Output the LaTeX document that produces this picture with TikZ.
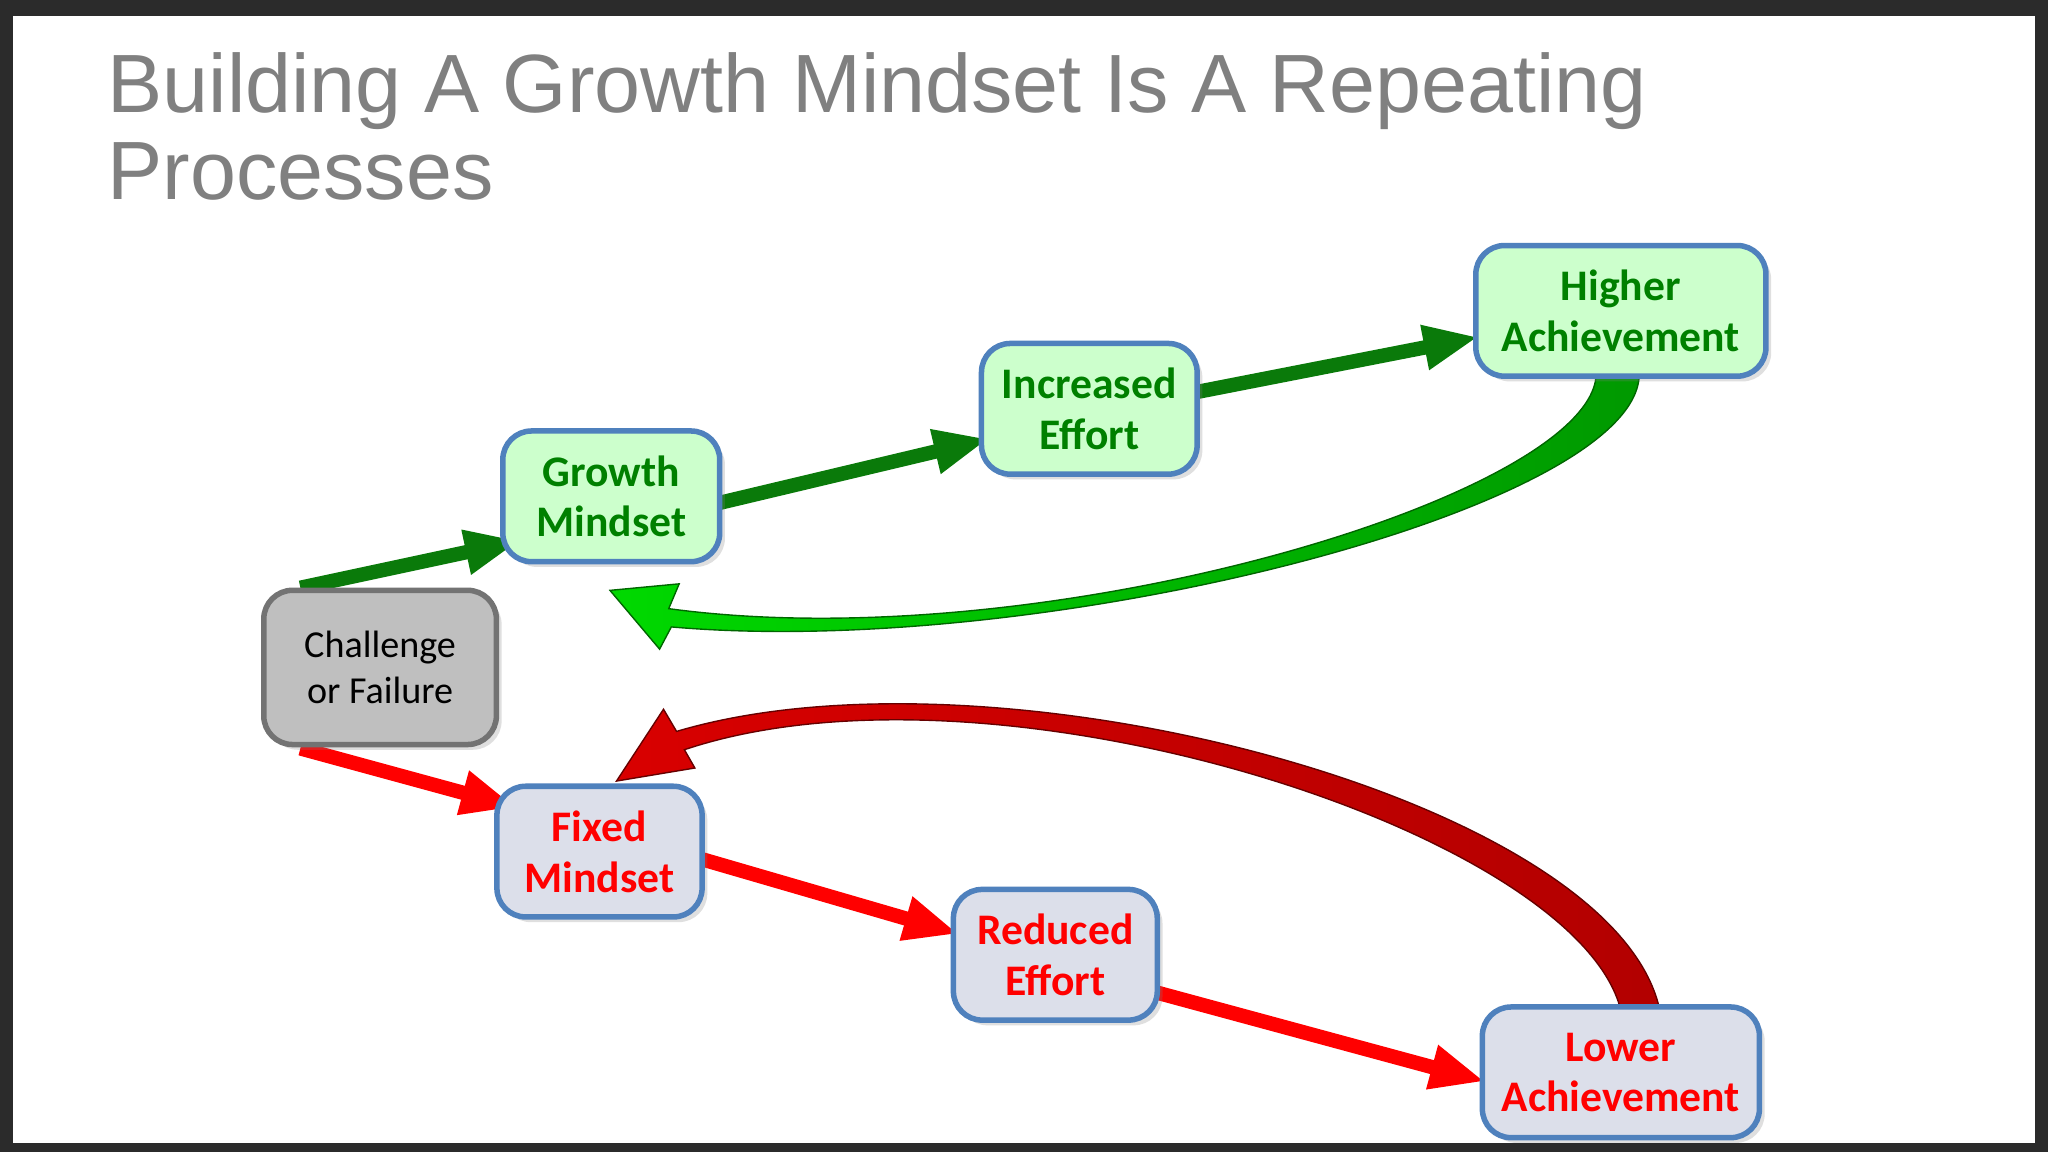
\documentclass[tikz,border=0pt]{standalone}
\usepackage{fontspec}
\setmainfont{Carlito}
\newfontfamily\titlefont{Liberation Sans}
\usetikzlibrary{arrows.meta,shadows,calc}
\definecolor{bgdark}{HTML}{2B2B2B}
\definecolor{gfill}{HTML}{CCFFCC}
\definecolor{rfill}{HTML}{DCDFEA}
\definecolor{bblue}{HTML}{4F81BD}
\definecolor{dgreen}{HTML}{008000}
\definecolor{arrgreen}{HTML}{0A7A0A}
\tikzset{
 box/.style={draw=bblue,line width=1.2pt,rounded corners=0.22cm,align=center,minimum height=1cm,inner sep=0pt,font=\bfseries\fontsize{9.5}{11}\selectfont,drop shadow={opacity=0.25,shadow xshift=0.04cm,shadow yshift=-0.04cm}},
 gbox/.style={box,fill=gfill,text=dgreen},
 rbox/.style={box,fill=rfill,text=red},
 garr/.style={draw=arrgreen,line width=0.11cm,-{Triangle[length=0.42cm,width=0.32cm]},fill=arrgreen},
 rarr/.style={draw=red,line width=0.11cm,-{Triangle[length=0.42cm,width=0.32cm]},fill=red},
}
\begin{document}
\begin{tikzpicture}[x=0.01cm,y=-0.01cm]
\fill[bgdark] (0,0) rectangle (1568,882);
\fill[white] (10,12) rectangle (1558,875);
\useasboundingbox (0,0) rectangle (1568,882);
\node[anchor=north west,align=left,text=black!50,font=\titlefont\fontsize{18}{19}\selectfont] (title) at (70,28) {Building A Growth Mindset Is A Repeating\\Processes};
\coordinate (g0) at (230,450); \coordinate (g1) at (398,414);
\coordinate (g2) at (551,385); \coordinate (g3) at (757,336);
\coordinate (g4) at (917,300); \coordinate (g5) at (1132,258);
\coordinate (r0) at (230,573); \coordinate (r1) at (395,618);
\coordinate (r2) at (538,658); \coordinate (r3) at (734,715);
\coordinate (r4) at (886,760); \coordinate (r5) at (1137,828);
\draw[garr] (g0) -- (g1);
\draw[garr] (g2) -- (g3);
\draw[garr] (g4) -- (g5);
\draw[rarr] (r0) -- (r1);
\draw[rarr] (r2) -- (r3);
\draw[rarr] (r4) -- (r5);
\shade[left color=green!85!black,right color=green!60!black,draw=green!40!black,line width=0.3pt]
 (1222,288) .. controls (1215,380) and (800,505) .. (512,466) -- (520,447) -- (467,452) -- (505,497) -- (514,480)
 .. controls (800,505) and (1250,390) .. (1255,288) -- cycle;
\shade[left color=red!85!black,right color=red!70!black,draw=red!40!black,line width=0.3pt]
 (1270,770) .. controls (1230,610) and (760,488) .. (518,560) -- (508,543) -- (472,598) -- (532,588) -- (524,574)
 .. controls (760,495) and (1200,635) .. (1240,770) -- cycle;
\node[draw=gray!90!black,fill=gray!50,line width=1.2pt,rounded corners=0.22cm,align=center,minimum width=1.78cm,minimum height=1.18cm,font=\fontsize{8.3}{10}\selectfont,drop shadow={opacity=0.25,shadow xshift=0.04cm,shadow yshift=-0.04cm}] (chal) at (291,511) {Challenge\\or Failure};
\node[gbox,minimum width=1.66cm] (grow) at (468,380) {Growth\\Mindset};
\node[gbox,minimum width=1.65cm] (inc) at (834,313) {Increased\\Effort};
\node[gbox,minimum width=2.22cm] (high) at (1241,238) {Higher\\Achievement};
\node[rbox,minimum width=1.57cm] (fix) at (459,652) {Fixed\\Mindset};
\node[rbox,minimum width=1.56cm] (red) at (808,731) {Reduced\\Effort};
\node[rbox,minimum width=2.12cm] (low) at (1241,821) {Lower\\Achievement};
\end{tikzpicture}
\end{document}
